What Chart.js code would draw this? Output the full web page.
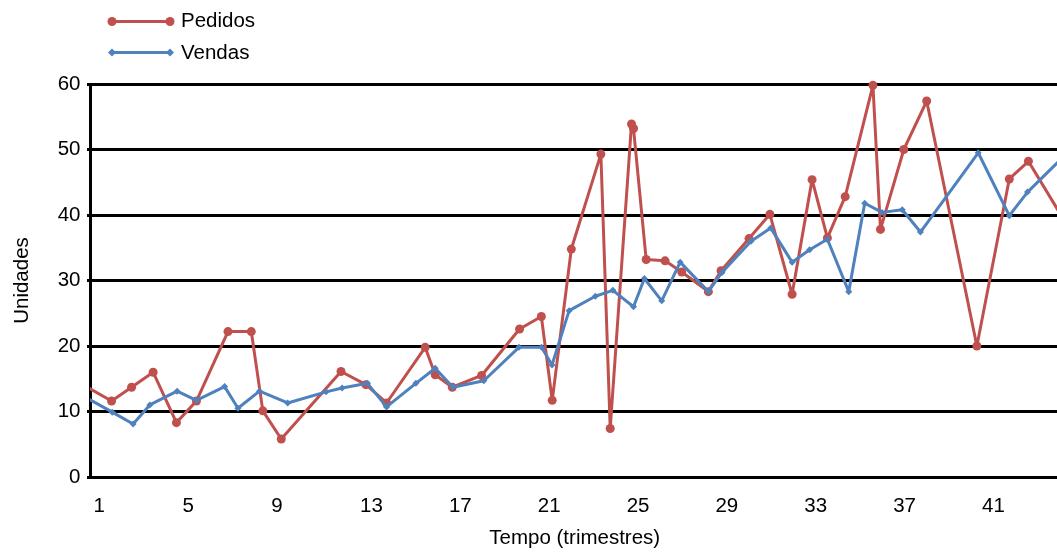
<!DOCTYPE html>
<html>
<head>
<meta charset="utf-8">
<script src="https://cdn.jsdelivr.net/npm/chart.js@4.4.1/dist/chart.umd.min.js"></script>
<style>
  html, body { margin: 0; padding: 0; background: #fff; overflow: hidden; }
  #wrap { width: 1057px; height: 552px; overflow: hidden; }
</style>
</head>
<body>
<div id="wrap"><canvas id="myChart" width="1064" height="552"></canvas></div>
<script>
// trimestres (x) e unidades (y)
let pedidosX = [0.0, 1.81, 2.71, 3.68, 4.73, 5.63, 7.05, 8.10, 8.62, 9.45, 12.14, 13.26, 14.19, 15.93, 16.38, 17.15, 18.47, 20.18, 21.16, 21.65, 22.51, 23.84, 24.26, 25.22, 25.31, 25.88, 26.73, 27.48, 28.68, 29.25, 30.51, 31.45, 32.45, 33.35, 34.04, 34.84, 36.09, 36.43, 37.48, 38.51, 40.77, 42.23, 43.09, 45.0]
let pedidosY = [15.1, 11.6, 13.7, 16.0, 8.3, 11.6, 22.2, 22.2, 10.1, 5.8, 16.1, 14.1, 11.3, 19.8, 15.6, 13.7, 15.5, 22.6, 24.5, 11.7, 34.8, 49.3, 7.4, 53.9, 53.2, 33.2, 33.0, 31.3, 28.3, 31.5, 36.4, 40.1, 27.9, 45.4, 36.5, 42.8, 59.8, 37.8, 50.0, 57.4, 20.0, 45.5, 48.2, 37.5]

let vendasX = [0.0, 1.84, 2.78, 3.53, 4.76, 5.63, 6.90, 7.50, 8.47, 9.74, 11.47, 12.19, 13.33, 14.19, 15.51, 16.38, 17.18, 18.57, 20.15, 21.17, 21.64, 22.41, 23.59, 24.38, 25.31, 25.80, 26.58, 27.41, 28.68, 29.28, 30.60, 31.49, 32.45, 33.24, 34.04, 35.00, 35.72, 36.50, 37.41, 38.23, 40.83, 42.23, 43.05, 45.0]
let vendasY = [13.4, 9.9, 8.1, 11.0, 13.1, 11.7, 13.8, 10.5, 13.1, 11.3, 13.0, 13.6, 14.3, 10.7, 14.3, 16.6, 13.7, 14.7, 19.8, 19.8, 17.1, 25.4, 27.6, 28.5, 26.0, 30.3, 26.9, 32.8, 28.3, 31.2, 36.0, 38.0, 32.8, 34.7, 36.3, 28.3, 41.8, 40.4, 40.8, 37.4, 49.5, 39.9, 43.5, 50.0]

let xTicks = [1, 5, 9, 13, 17, 21, 25, 29, 33, 37, 41]
let yTicks = [0, 10, 20, 30, 40, 50, 60]

const vermelho = '#C0504D'
const azul = '#4F81BD'
const fonte = "'Liberation Sans', Arial, Helvetica, sans-serif"

const pontos = (xs, ys) => xs.map((x, i) => ({ x: x, y: ys[i] }))

// legenda desenhada à mão: linha com marcador nas duas pontas
const legenda = {
  id: 'legenda',
  afterDraw(chart) {
    const c = chart.ctx
    const itens = [
      { texto: 'Pedidos', cor: vermelho, y: 21.5, base: 27, tipo: 'circ' },
      { texto: 'Vendas', cor: azul, y: 52.5, base: 59, tipo: 'diam' }
    ]
    c.save()
    itens.forEach(it => {
      c.strokeStyle = it.cor
      c.fillStyle = it.cor
      c.lineWidth = 3
      c.beginPath()
      c.moveTo(112, it.y)
      c.lineTo(170, it.y)
      c.stroke()
      ;[112, 170].forEach(px => {
        c.beginPath()
        if (it.tipo === 'circ') {
          c.arc(px, it.y, 4.5, 0, Math.PI * 2)
        } else {
          c.moveTo(px - 4, it.y); c.lineTo(px, it.y - 4); c.lineTo(px + 4, it.y); c.lineTo(px, it.y + 4); c.closePath()
        }
        c.fill()
      })
      c.fillStyle = '#000'
      c.font = '20.5px ' + fonte
      c.textAlign = 'left'
      c.textBaseline = 'alphabetic'
      c.fillText(it.texto, 181, it.base)
    })
    c.restore()
  }
}

let ctx = document.getElementById('myChart').getContext('2d')

let myChart = new Chart(ctx, {
  type: 'line',
  data: {
    datasets: [{
      label: 'Pedidos',
      data: pontos(pedidosX, pedidosY),
      borderColor: vermelho,
      backgroundColor: vermelho,
      borderWidth: 3,
      borderJoinStyle: 'round',
      borderCapStyle: 'round',
      pointStyle: 'circle',
      pointRadius: 4.5,
      pointBorderWidth: 0,
      tension: 0,
      clip: { left: 0, right: 0, top: 8, bottom: 8 },
      order: 1
    }, {
      label: 'Vendas',
      data: pontos(vendasX, vendasY),
      borderColor: azul,
      backgroundColor: azul,
      borderWidth: 3,
      borderJoinStyle: 'round',
      borderCapStyle: 'round',
      pointStyle: 'rectRot',
      pointRadius: 3.5,
      pointBorderWidth: 0,
      tension: 0,
      clip: { left: 0, right: 0, top: 8, bottom: 8 },
      order: 0
    }]
  },
  options: {
    responsive: false,
    animation: false,
    devicePixelRatio: 1,
    layout: { padding: { top: 84, left: 0, right: 2, bottom: 0 } },
    plugins: { legend: { display: false }, tooltip: { enabled: false } },
    scales: {
      x: {
        type: 'linear',
        min: 0.838,
        max: 44.49,
        afterBuildTicks: s => { s.ticks = xTicks.map(v => ({ value: v })) },
        afterFit: s => { s.height = 75 },
        grid: { display: false, drawTicks: false },
        border: { display: false },
        ticks: { align: 'start', autoSkip: false, maxRotation: 0, padding: 17, color: '#000', font: { family: fonte, size: 20.5 } },
        title: { display: true, text: 'Tempo (trimestres)', color: '#000', padding: { top: 0, bottom: 1.2 }, font: { family: fonte, size: 20.5 } }
      },
      y: {
        min: 0,
        max: 60,
        afterBuildTicks: s => { s.ticks = yTicks.map(v => ({ value: v })) },
        afterFit: s => { s.width = 90 },
        grid: { color: '#000', lineWidth: 3, tickLength: 3, drawTicks: true },
        border: { display: true, color: '#000', width: 3 },
        ticks: { padding: 6.5, color: '#000', font: { family: fonte, size: 20.5 } },
        title: { display: true, text: 'Unidades', color: '#000', padding: { top: 10.2, bottom: 0 }, font: { family: fonte, size: 20.5 } }
      }
    }
  },
  plugins: [legenda]
})
</script>
</body>
</html>
